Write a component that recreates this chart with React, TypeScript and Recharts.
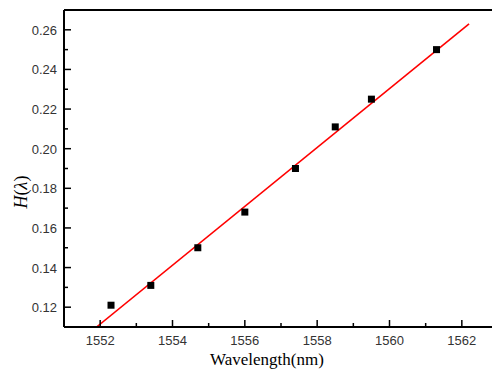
import React from 'react';
import { ComposedChart, Scatter, Line, XAxis, YAxis, ReferenceLine } from 'recharts';

// measured points
const wavelength = [1552.3, 1553.4, 1554.7, 1556.0, 1557.4, 1558.5, 1559.5, 1561.3];
const hValues = [0.121, 0.131, 0.150, 0.168, 0.190, 0.211, 0.225, 0.250];

// linear fit end points
const fitWavelength = [1551.9, 1562.2];
const fitH = [0.110, 0.263];

const xTicks = [1551, 1552, 1553, 1554, 1555, 1556, 1557, 1558, 1559, 1560, 1561, 1562, 1563];
const yTicks = [0.11, 0.12, 0.13, 0.14, 0.15, 0.16, 0.17, 0.18, 0.19, 0.20, 0.21, 0.22, 0.23, 0.24, 0.25, 0.26, 0.27];

const points = wavelength.map((w, i) => ({ w, h: hValues[i] }));
const fit = fitWavelength.map((w, i) => ({ w, h: fitH[i] }));

const tickFont = { fontFamily: '"Liberation Sans", Arial, sans-serif', fontSize: 13, fill: '#333' };

const XTick = (props: any) => {
  const { x, y, payload } = props;
  const major = Math.round(payload.value) % 2 === 0;
  return <g>
      <line x1={x} x2={x} y1={y} y2={y - (major ? 7 : 4)} stroke="#000" strokeWidth={1.5} />
      {major && payload.value !== 1563 ? <text x={x} y={y + 18} textAnchor="middle" {...tickFont}>{payload.value}</text> : null}
    </g>;
};

const YTick = (props: any) => {
  const { x, y, payload } = props;
  const major = Math.round(payload.value * 100) % 2 === 0;
  return <g>
      <line x1={x} x2={x + (major ? 7 : 4)} y1={y} y2={y} stroke="#000" strokeWidth={1.5} />
      {major && payload.value < 0.265 && payload.value > 0.115 ? <text x={x - 7} y={y + 5} textAnchor="end" {...tickFont}>{payload.value.toFixed(2)}</text> : null}
    </g>;
};

const Square = (props: any) => {
  const { cx, cy } = props;
  return <rect x={cx - 3.5} y={cy - 3.5} width={7} height={7} fill="#000" />;
};

export default function App() {
  return <div style={{ position: 'absolute', left: 0, top: 0, width: 492, height: 369, overflow: 'hidden', background: '#fff' }}>
      <ComposedChart width={500} height={369} margin={{ top: 10, right: 2, left: 0, bottom: 0 }}>
        <XAxis type="number" dataKey="w" domain={[1551, 1563]} ticks={xTicks} interval={0} allowDataOverflow
          height={42} stroke="#000" strokeWidth={2} tickLine={false} tickSize={0} tickMargin={0} tick={<XTick />} />
        <YAxis type="number" dataKey="h" domain={[0.11, 0.27]} ticks={yTicks} interval={0} allowDataOverflow
          width={64} stroke="#000" strokeWidth={2} tickLine={false} tickSize={0} tickMargin={0} tick={<YTick />} />
        <ReferenceLine y={0.27} stroke="#000" strokeWidth={2} />
        <ReferenceLine x={1563} stroke="#000" strokeWidth={2} />
        <Line data={fit} dataKey="h" type="linear" stroke="#ff0000" strokeWidth={1.6} dot={false} activeDot={false} isAnimationActive={false} />
        <Scatter data={points} dataKey="h" shape={<Square />} isAnimationActive={false} />
      </ComposedChart>
      <div style={{ position: 'absolute', left: 210, top: 351, lineHeight: '17px', fontFamily: '"Liberation Serif", "Times New Roman", serif', fontSize: 17, color: '#000', whiteSpace: 'nowrap' }}>
        Wavelength(nm)
      </div>
      <div style={{ position: 'absolute', left: 21, top: 192, transform: 'translate(-50%, -50%) rotate(-90deg)', fontFamily: '"Liberation Serif", "Times New Roman", serif', fontSize: 18, color: '#000', whiteSpace: 'nowrap' }}>
        <i>H</i>(<i>λ</i>)
      </div>
    </div>;
}
